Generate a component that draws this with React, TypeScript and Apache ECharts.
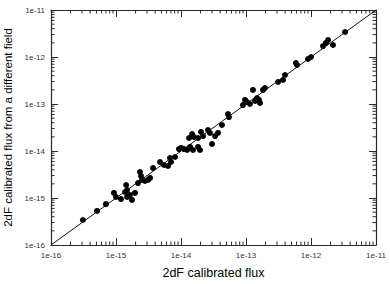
import React, { useEffect, useRef } from "react";
import * as echarts from "echarts";

// 2dF calibrated flux (x) vs calibrated flux from a different field (y)
const fluxX = [
  3.1e-16, 5.1e-16, 7.0e-16, 9.3e-16, 1.0e-15, 1.19e-15, 1.43e-15, 1.38e-15, 1.48e-15, 1.64e-15,
  1.76e-15, 1.96e-15, 1.48e-15, 2.34e-15, 2.18e-15, 2.51e-15, 2.79e-15, 3.11e-15, 3.34e-15, 3.71e-15,
  4.75e-15, 5.47e-15, 6.78e-15, 7.02e-15, 6.31e-15, 8.09e-15, 9.3e-15, 1.0e-14, 1.11e-14, 1.24e-14,
  1.38e-14, 1.53e-14, 1.83e-14, 1.33e-14, 1.48e-14, 1.58e-14, 1.83e-14, 2.03e-14, 2.18e-14, 2.6e-14,
  2.79e-14, 3.34e-14, 3.71e-14, 4.27e-14, 5.28e-14, 5.47e-14, 8.99e-14, 9.66e-14, 1.04e-13, 1.15e-13,
  1.28e-13, 1.38e-13, 1.48e-13, 1.58e-13, 1.64e-13, 1.83e-13, 1.96e-13, 3.11e-13, 3.71e-13, 3.98e-13,
  5.87e-13, 6.09e-13, 8.99e-13, 1.0e-12, 1.53e-12, 1.7e-12, 1.83e-12, 2.18e-12, 3.34e-12, 3.0e-14,
  1.96e-14, 2.43e-15,
];
const fluxY = [
  3.4e-16, 5.3e-16, 7.4e-16, 1.28e-15, 1.05e-15, 9.5e-16, 1.89e-15, 1.34e-15, 1.05e-15, 1.16e-15,
  9.1e-16, 1.28e-15, 1.48e-15, 3.57e-15, 2.08e-15, 2.42e-15, 2.3e-15, 2.42e-15, 2.67e-15, 4.35e-15,
  5.83e-15, 5.04e-15, 7.1e-15, 5.83e-15, 4.8e-15, 7.45e-15, 1.1e-14, 1.16e-14, 1.1e-14, 1.05e-14,
  1.22e-14, 1.05e-14, 1.22e-14, 1.89e-14, 2.3e-14, 1.99e-14, 1.89e-14, 2.54e-14, 2.08e-14, 2.8e-14,
  2.42e-14, 2.08e-14, 2.42e-14, 3.57e-14, 6.12e-14, 5.28e-14, 9.5e-14, 1.22e-13, 1.1e-13, 1.0e-13,
  1.99e-13, 1.16e-13, 1.34e-13, 1.22e-13, 1.05e-13, 1.99e-13, 2.19e-13, 2.94e-13, 3.24e-13, 4.14e-13,
  7.45e-13, 6.76e-13, 9.06e-13, 1.0e-12, 1.71e-12, 1.99e-12, 2.3e-12, 1.8e-12, 3.4e-12, 1.41e-14,
  1.05e-14, 2.94e-15,
];

// identity line endpoints
const identityLine = [1e-16, 1e-11];

// axis range
const axisMin = 1e-16;
const axisMax = 1e-11;

// minor tick mantissas and decades
const minorMantissas = [2, 3, 4, 5, 6, 7, 8, 9];
const decades = [-16, -15, -14, -13, -12];

const xTitle = "2dF calibrated flux";
const yTitle = "2dF calibrated flux from a different field";

const FONT = "'Liberation Sans', Arial, sans-serif";

export default function App() {
  const ref = useRef<HTMLDivElement>(null);

  useEffect(() => {
    if (!ref.current) return;
    const chart = echarts.init(ref.current, undefined, { renderer: "svg" });

    const points = fluxX.map((x, i) => [x, fluxY[i]]);
    const minorTicks: number[][] = [];
    decades.forEach((d) => {
      minorMantissas.forEach((m) => {
        const v = m * Math.pow(10, d);
        minorTicks.push([v, v]);
      });
    });

    const axisLine = { show: true, lineStyle: { color: "#2a2a2a", width: 1.2 } };
    const labelFmt = (v: number) => "1e" + Math.round(Math.log10(v));

    const xBase = {
      type: "log" as const,
      logBase: 10,
      min: axisMin,
      max: axisMax,
      splitNumber: 5,
      splitLine: { show: false },
      axisLine,
      axisTick: { show: true, inside: true, length: 7, lineStyle: { color: "#2a2a2a", width: 1 } },
    };

    chart.setOption({
      animation: false,
      backgroundColor: "#ffffff",
      grid: {
        left: 51,
        right: 14,
        top: 10,
        bottom: 39,
        containLabel: false,
        outerBoundsMode: "none",
      },
      xAxis: [
        {
          ...xBase,
          position: "bottom",
          axisLabel: {
            formatter: labelFmt,
            fontSize: 8,
            color: "#333",
            fontFamily: FONT,
            margin: 6,
            showMinLabel: true,
            showMaxLabel: true,
            alignMinLabel: "center",
            alignMaxLabel: "center",
            overflow: "none",
          },
          name: xTitle,
          nameLocation: "middle",
          nameGap: 21,
          nameTextStyle: { fontSize: 12.5, color: "#000", fontFamily: FONT },
        },
        {
          ...xBase,
          position: "top",
          axisLabel: { show: false },
        },
      ],
      yAxis: [
        {
          ...xBase,
          position: "left",
          axisLabel: {
            formatter: labelFmt,
            fontSize: 8,
            color: "#333",
            fontFamily: FONT,
            margin: 6,
            showMinLabel: true,
            showMaxLabel: true,
          },
          name: yTitle,
          nameLocation: "middle",
          nameGap: 29,
          nameRotate: 90,
          nameTextStyle: { fontSize: 11.5, color: "#000", fontFamily: FONT },
        },
        {
          ...xBase,
          position: "right",
          axisLabel: { show: false },
        },
      ],
      series: [
        {
          type: "custom",
          silent: true,
          clip: false,
          xAxisIndex: 0,
          yAxisIndex: 0,
          data: minorTicks,
          encode: { x: 0, y: 1 },
          renderItem: (params: any, api: any) => {
            const v = api.value(0);
            const p = api.coord([v, v]);
            const cs = params.coordSys;
            const L = 3.5;
            const style = { stroke: "#2a2a2a", lineWidth: 1 };
            const bottom = cs.y + cs.height;
            const right = cs.x + cs.width;
            return {
              type: "group",
              children: [
                { type: "line", shape: { x1: p[0], y1: bottom, x2: p[0], y2: bottom - L }, style },
                { type: "line", shape: { x1: p[0], y1: cs.y, x2: p[0], y2: cs.y + L }, style },
                { type: "line", shape: { x1: cs.x, y1: p[1], x2: cs.x + L, y2: p[1] }, style },
                { type: "line", shape: { x1: right, y1: p[1], x2: right - L, y2: p[1] }, style },
              ],
            };
          },
        },
        {
          type: "line",
          xAxisIndex: 0,
          yAxisIndex: 0,
          data: [
            [identityLine[0], identityLine[0]],
            [identityLine[1], identityLine[1]],
          ],
          symbol: "none",
          silent: true,
          lineStyle: { color: "#111", width: 1 },
        },
        {
          type: "scatter",
          xAxisIndex: 0,
          yAxisIndex: 0,
          data: points,
          symbol: "circle",
          symbolSize: 6,
          itemStyle: { color: "#000", opacity: 1 },
        },
      ],
    });

    return () => chart.dispose();
  }, []);

  return (
    <div
      ref={ref}
      style={{ position: "absolute", left: 0, top: 0, width: 390, height: 284 }}
    />
  );
}
